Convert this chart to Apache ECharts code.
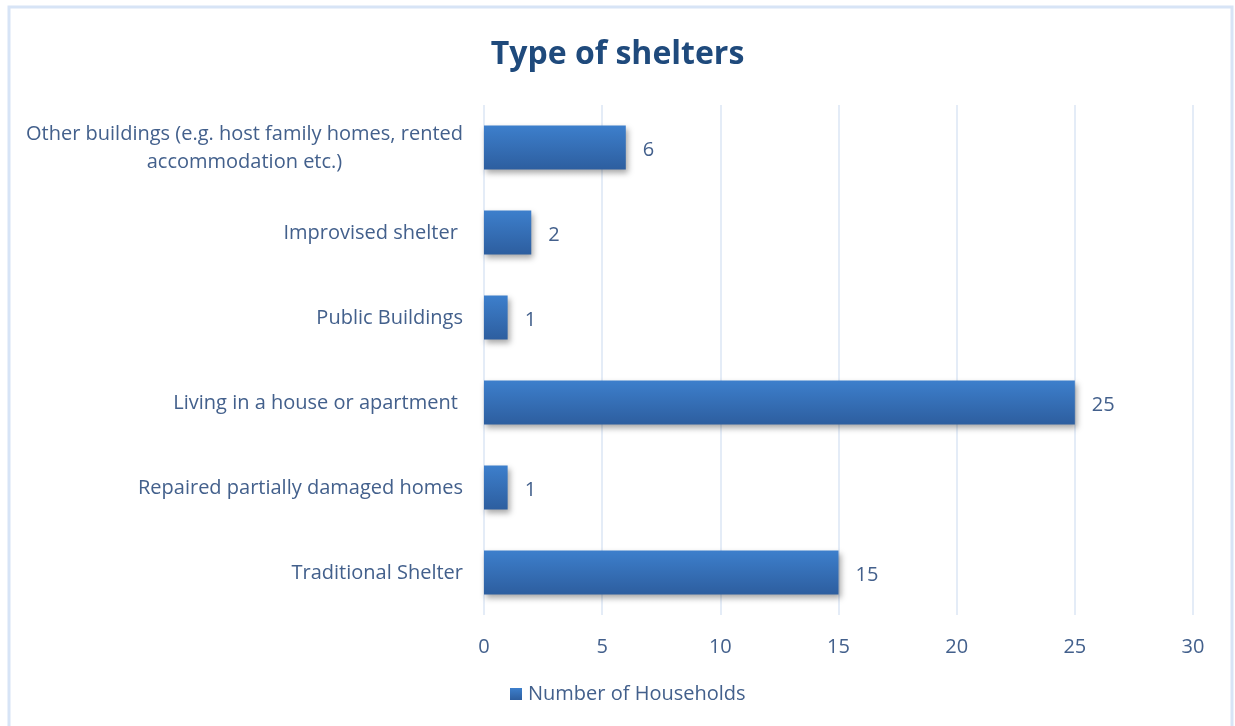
<!DOCTYPE html>
<html>
<head>
<meta charset="utf-8">
<script src="https://cdn.jsdelivr.net/npm/echarts@6/dist/echarts.min.js"></script>
<style>
  html, body { margin: 0; padding: 0; background: #ffffff; }
  #chart { width: 1235px; height: 726px; }
</style>
</head>
<body>
<div id="chart"></div>
<script>
// Shelter types, listed bottom to top as they appear on the vertical axis
const categories = [
  'Traditional Shelter',
  'Repaired partially damaged homes',
  'Living in a house or apartment ',
  'Public Buildings',
  'Improvised shelter ',
  'Other buildings (e.g. host family homes, rented\naccommodation etc.)'
];
const households = [15, 1, 25, 1, 2, 6];
const seriesName = 'Number of Households';
const xTicks = { min: 0, max: 30, interval: 5 };

const textColor = '#43608c';
const font = 'Open Sans, Noto Sans, sans-serif';

const chart = echarts.init(document.getElementById('chart'));
chart.setOption({
  backgroundColor: '#ffffff',
  animation: false,
  graphic: [{
    type: 'rect',
    shape: { x: 9, y: 7, width: 1223, height: 740 },
    style: { fill: 'none', stroke: '#d7e4f6', lineWidth: 3 },
    silent: true
  }],
  title: {
    text: 'Type of shelters',
    left: 'center',
    top: 34,
    textStyle: { color: '#1f4a7c', fontSize: 32, fontWeight: 'bold', fontFamily: font }
  },
  legend: {
    bottom: 17,
    left: 505,
    itemWidth: 12,
    itemHeight: 12,
    itemGap: 6,
    icon: 'rect',
    textStyle: { color: textColor, fontSize: 20, fontFamily: font, padding: [0, 0, 0, 1] },
    data: [seriesName]
  },
  grid: { left: 484, right: 42, top: 105, bottom: 111, containLabel: false },
  xAxis: {
    type: 'value',
    min: xTicks.min,
    max: xTicks.max,
    interval: xTicks.interval,
    axisLine: { show: false },
    axisTick: { show: false },
    axisLabel: { color: textColor, fontSize: 20, fontFamily: font, margin: 22 },
    splitLine: { lineStyle: { color: '#dbe6f4', width: 1.5 } }
  },
  yAxis: {
    type: 'category',
    data: categories,
    axisLine: { show: false },
    axisTick: { show: false },
    axisLabel: {
      color: textColor, fontSize: 20, fontFamily: font, margin: 21,
      align: 'right', lineHeight: 28,
      // wrapped lines are centred on one another inside the right-anchored block
      formatter: function (v) {
        return v.split('\n').map(function (line) { return '{c|' + line + '}'; }).join('\n');
      },
      rich: {
        c: { align: 'center', color: textColor, fontSize: 20, fontFamily: font, lineHeight: 28, padding: [2, 0, 0, 0] }
      }
    },
    splitLine: { show: false }
  },
  series: [{
    name: seriesName,
    type: 'bar',
    data: households,
    barWidth: 44,
    itemStyle: {
      color: new echarts.graphic.LinearGradient(0, 0, 0, 1, [
        { offset: 0, color: '#3d7fcc' },
        { offset: 1, color: '#2d5e9f' }
      ]),
      shadowColor: 'rgba(0,0,0,0.35)',
      shadowBlur: 6,
      shadowOffsetX: 2,
      shadowOffsetY: 3
    },
    label: {
      show: true,
      position: 'right',
      distance: 17,
      offset: [0, 3],
      color: textColor,
      fontSize: 20,
      fontFamily: font
    }
  }]
});
</script>
</body>
</html>
